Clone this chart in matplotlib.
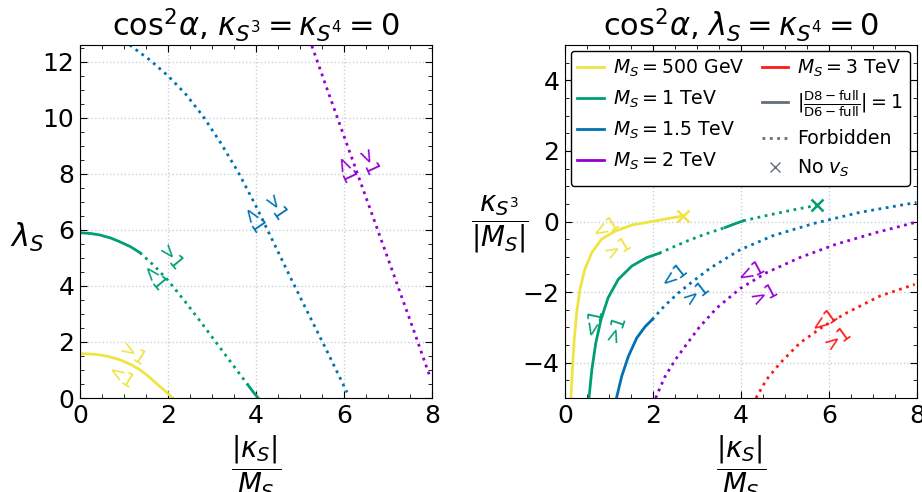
import numpy as np
import matplotlib
matplotlib.use("Agg")
from matplotlib import pyplot as plt
from matplotlib.lines import Line2D

# colours per mass
c500 = '#F0E442'
c1 = '#009E73'
c15 = '#0072B2'
c2 = '#9400D3'
c3 = '#FF1A1A'
cgrey = '#607080'

# ---- left panel : lambda_S vs |kappa_S|/M_S ----
L_500_x = [0.0, 0.2, 0.45, 0.65, 0.9, 1.15, 1.36, 1.55, 1.73, 1.92, 2.11]
L_500_y = [1.58, 1.575, 1.54, 1.48, 1.37, 1.2, 1.01, 0.78, 0.53, 0.27, 0.0]

L_1_solid_x = [0.0, 0.25, 0.45, 0.7, 0.9, 1.15, 1.36]
L_1_solid_y = [5.90, 5.87, 5.82, 5.71, 5.58, 5.4, 5.19]
L_1_dot_x = [1.36, 1.7, 2.0, 2.4, 2.8, 3.2, 3.6, 3.82]
L_1_dot_y = [5.19, 4.7, 4.2, 3.42, 2.6, 1.76, 0.92, 0.46]
L_1_end_x = [3.82, 3.93, 4.05]
L_1_end_y = [0.46, 0.23, 0.0]

L_15_x = [1.13, 1.6, 2.0, 2.4, 2.8, 3.2, 3.6, 4.0, 4.4, 4.8, 5.2, 5.6, 6.07]
L_15_y = [12.6, 12.05, 11.5, 10.85, 10.05, 9.1, 8.05, 6.85, 5.55, 4.25, 2.98, 1.72, 0.2]

L_2_x = [5.27, 5.6, 6.0, 6.4, 6.8, 7.2, 7.6, 7.95]
L_2_y = [12.57, 11.1, 9.35, 7.6, 5.85, 4.1, 2.35, 0.78]

# ---- right panel : kappa_S3/|M_S| vs |kappa_S|/M_S ----
R_500_x = [0.136, 0.167, 0.21, 0.265, 0.34, 0.45, 0.61, 0.83, 1.14, 1.52, 1.97, 2.35, 2.69]
R_500_y = [-5.0, -4.2, -3.34, -2.59, -1.92, -1.35, -0.88, -0.5, -0.27, -0.1, 0.0, 0.085, 0.16]

R_1_solid_x = [0.545, 0.61, 0.70, 0.82, 0.98, 1.21, 1.52, 1.86, 2.14]
R_1_solid_y = [-5.0, -4.2, -3.44, -2.77, -2.16, -1.64, -1.26, -1.02, -0.9]
R_1_dot_x = [2.14, 2.5, 2.8, 3.18, 3.64]
R_1_dot_y = [-0.9, -0.7, -0.54, -0.36, -0.17]
R_1_mid_x = [3.64, 3.85, 4.05]
R_1_mid_y = [-0.17, -0.07, 0.02]
R_1_dot2_x = [4.05, 4.58, 5.19, 5.73]
R_1_dot2_y = [0.02, 0.17, 0.33, 0.46]

R_15_solid_x = [1.17, 1.29, 1.44, 1.63, 1.82, 1.98]
R_15_solid_y = [-5.0, -4.38, -3.82, -3.3, -2.98, -2.78]
R_15_dot_x = [1.98, 2.27, 2.58, 2.88, 3.30, 3.98, 4.73, 5.64, 6.70, 7.99]
R_15_dot_y = [-2.78, -2.38, -2.02, -1.72, -1.32, -0.8, -0.4, -0.06, 0.26, 0.54]

R_2_x = [2.06, 2.27, 2.5, 2.75, 3.05, 3.45, 3.98, 4.58, 5.34, 6.17, 7.08, 7.95]
R_2_y = [-5.0, -4.4, -3.93, -3.5, -3.0, -2.45, -1.9, -1.45, -1.02, -0.64, -0.31, -0.03]

R_3_x = [4.34, 4.58, 4.89, 5.34, 5.87, 6.40, 7.16, 7.95]
R_3_y = [-5.0, -4.48, -4.01, -3.44, -2.97, -2.59, -2.11, -1.78]

# no-vS end points
novs_x = [2.69, 5.73]
novs_y = [0.16, 0.46]

# (text, x, y, rotation, colour)
L_labels = [('>1', 1.21, 1.54, -32, c500), ('<1', 0.94, 0.71, -32, c500),
            ('>1', 2.05, 4.99, -50, c1), ('<1', 1.66, 4.24, -50, c1),
            ('>1', 4.41, 6.77, -56, c15), ('<1', 3.92, 6.29, -56, c15),
            ('>1', 6.52, 8.37, -65, c2), ('<1', 6.0, 8.08, -65, c2)]
R_labels = [('<1', 0.95, -0.17, 30, c500), ('>1', 1.21, -0.74, 30, c500),
            ('<1', 0.64, -2.82, 78, c1), ('>1', 1.17, -3.01, 72, c1),
            ('<1', 2.5, -1.5, 38, c15), ('>1', 2.99, -2.02, 38, c15),
            ('<1', 4.24, -1.4, 28, c2), ('>1', 4.55, -2.07, 28, c2),
            ('<1', 5.91, -2.78, 36, c3), ('>1', 6.21, -3.3, 36, c3)]

plt.rcParams['font.size'] = 18
plt.rcParams['mathtext.fontset'] = 'dejavusans'

fig = plt.figure(figsize=(9.22, 4.92), dpi=100)
ax1 = fig.add_axes([0.0868, 0.191, 0.3817, 0.7175])
ax2 = fig.add_axes([0.6128, 0.191, 0.3817, 0.7175])

lw = 2
ax1.plot(L_500_x, L_500_y, color=c500, lw=lw)
ax1.plot(L_1_solid_x, L_1_solid_y, color=c1, lw=lw)
ax1.plot(L_1_dot_x, L_1_dot_y, color=c1, lw=lw, ls=':')
ax1.plot(L_1_end_x, L_1_end_y, color=c1, lw=lw)
ax1.plot(L_15_x, L_15_y, color=c15, lw=lw, ls=':')
ax1.plot(L_2_x, L_2_y, color=c2, lw=lw, ls=':')
for t, x, y, r, c in L_labels:
    ax1.text(x, y, t, rotation=r, color=c, fontsize=14, ha='center', va='center')

ax2.plot(R_500_x, R_500_y, color=c500, lw=lw)
ax2.plot(R_1_solid_x, R_1_solid_y, color=c1, lw=lw)
ax2.plot(R_1_dot_x, R_1_dot_y, color=c1, lw=lw, ls=':')
ax2.plot(R_1_mid_x, R_1_mid_y, color=c1, lw=lw)
ax2.plot(R_1_dot2_x, R_1_dot2_y, color=c1, lw=lw, ls=':')
ax2.plot(R_15_solid_x, R_15_solid_y, color=c15, lw=lw)
ax2.plot(R_15_dot_x, R_15_dot_y, color=c15, lw=lw, ls=':')
ax2.plot(R_2_x, R_2_y, color=c2, lw=lw, ls=':')
ax2.plot(R_3_x, R_3_y, color=c3, lw=lw, ls=':')
ax2.plot(novs_x[0], novs_y[0], 'x', color=c500, ms=9, mew=1.8)
ax2.plot(novs_x[1], novs_y[1], 'x', color=c1, ms=9, mew=1.8)
for t, x, y, r, c in R_labels:
    ax2.text(x, y, t, rotation=r, color=c, fontsize=14, ha='center', va='center')

for ax in (ax1, ax2):
    ax.set_xlim(0, 8)
    ax.set_xticks([0, 2, 4, 6, 8])
    ax.minorticks_on()
    ax.tick_params(which='both', direction='in', top=True, right=True)
    ax.tick_params(which='major', length=5, labelsize=18, pad=4)
    ax.tick_params(which='minor', length=3)
    ax.grid(which='major', ls=':', color='#c8d0d8', lw=1)
    ax.set_xlabel(r'$\dfrac{|\kappa_S|}{M_S}$', fontsize=20, labelpad=4)

ax1.set_ylim(0, 12.6)
ax1.set_yticks([0, 2, 4, 6, 8, 10, 12])
ax1.set_ylabel(r'$\lambda_S$', fontsize=22, rotation=0, ha='center', va='center')
ax1.yaxis.set_label_coords(-0.151, 0.456)
ax1.set_title(r'$\mathrm{cos}^2\alpha$, $\kappa_{S^3}=\kappa_{S^4}=0$', fontsize=22)

ax2.set_ylim(-5, 5)
ax2.set_yticks([-4, -2, 0, 2, 4])
ax2.set_ylabel(r'$\dfrac{\kappa_{S^3}}{|M_S|}$', fontsize=20, rotation=0, ha='center', va='center')
ax2.yaxis.set_label_coords(-0.185, 0.493)
ax2.set_title(r'$\mathrm{cos}^2\alpha$, $\lambda_S=\kappa_{S^4}=0$', fontsize=22)

handles = [Line2D([], [], color=c500, lw=lw, label=r'$M_S = 500$ GeV'),
           Line2D([], [], color=c1, lw=lw, label=r'$M_S = 1$ TeV'),
           Line2D([], [], color=c15, lw=lw, label=r'$M_S = 1.5$ TeV'),
           Line2D([], [], color=c2, lw=lw, label=r'$M_S = 2$ TeV'),
           Line2D([], [], color=c3, lw=lw, label=r'$M_S = 3$ TeV'),
           Line2D([], [], color=cgrey, lw=lw, label=r'$|\frac{\mathrm{D8-full}}{\mathrm{D6-full}}| = 1$'),
           Line2D([], [], color=cgrey, lw=lw, ls=':', label='Forbidden'),
           Line2D([], [], color=cgrey, ls='', marker='x', ms=7, label=r'No $v_S$')]
leg = ax2.legend(handles=handles, ncol=2, loc='upper left', fontsize=13.6,
                 framealpha=1, edgecolor='black', handlelength=1.4,
                 columnspacing=0.9, handletextpad=0.5, borderpad=0.35, labelspacing=0.52,
                 borderaxespad=0.3)

fig.savefig('out.png', dpi=100)
